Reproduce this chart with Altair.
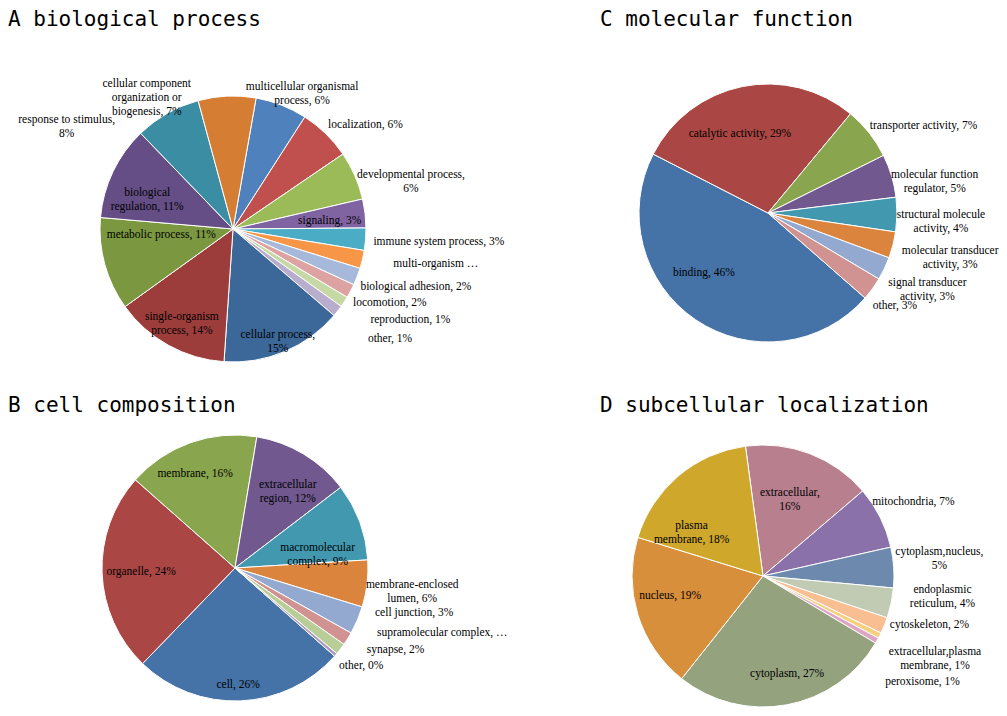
import math
import altair as alt
import pandas as pd

# ---------------- data ----------------
A_CATS = ["multicellular organismal process", "localization", "developmental process", "signaling",
          "immune system process", "multi-organism process", "biological adhesion", "locomotion",
          "reproduction", "other", "cellular process", "single-organism process", "metabolic process",
          "biological regulation", "response to stimulus",
          "cellular component organization or biogenesis"]
A_VALUES = [6.3, 6.4, 5.9, 3.5, 2.7, 2.2, 2.1, 1.7, 1.3, 1.4, 14.8, 14.0, 11.3, 11.4, 8.0, 7.0]
A_LABELS = ["multicellular organismal\nprocess, 6%", "localization, 6%", "developmental process,\n6%",
            "signaling, 3%", "immune system process, 3%", "multi-organism \u2026",
            "biological adhesion, 2%", "locomotion, 2%", "reproduction, 1%", "other, 1%",
            "cellular process,\n15%", "single-organism\nprocess, 14%", "metabolic process, 11%",
            "biological\nregulation, 11%", "response to stimulus,\n8%",
            "cellular component\norganization or\nbiogenesis, 7%"]

B_CATS = ["cell", "organelle", "membrane", "extracellular region", "macromolecular complex",
          "membrane-enclosed lumen", "cell junction", "supramolecular complex", "synapse", "other"]
B_VALUES = [25.7, 24.3, 16.1, 12.0, 9.4, 5.7, 3.4, 1.6, 1.4, 0.4]
B_LABELS = ["cell, 26%", "organelle, 24%", "membrane, 16%", "extracellular\nregion, 12%",
            "macromolecular\ncomplex, 9%", "membrane-enclosed\nlumen, 6%", "cell junction, 3%",
            "supramolecular complex, \u2026", "synapse, 2%", "other, 0%"]

C_CATS = ["binding", "catalytic activity", "transporter activity", "molecular function regulator",
          "structural molecule activity", "molecular transducer activity",
          "signal transducer activity", "other"]
C_VALUES = [46.1, 28.5, 6.6, 5.4, 4.3, 3.3, 2.9, 2.9]
C_LABELS = ["binding, 46%", "catalytic activity, 29%", "transporter activity, 7%",
            "molecular function\nregulator, 5%", "structural molecule\nactivity, 4%",
            "molecular transducer\nactivity, 3%", "signal transducer\nactivity, 3%", "other, 3%"]

D_CATS = ["extracellular", "mitochondria", "cytoplasm,nucleus", "endoplasmic reticulum",
          "cytoskeleton", "extracellular,plasma membrane", "peroxisome", "cytoplasm", "nucleus",
          "plasma membrane"]
D_VALUES = [15.9, 7.7, 5.0, 3.7, 2.0, 0.7, 0.7, 27.1, 19.1, 18.1]
D_LABELS = ["extracellular,\n16%", "mitochondria, 7%", "cytoplasm,nucleus,\n5%",
            "endoplasmic\nreticulum, 4%", "cytoskeleton, 2%", "extracellular,plasma\nmembrane, 1%",
            "peroxisome, 1%", "cytoplasm, 27%", "nucleus, 19%", "plasma\nmembrane, 18%"]

TITLES = ["A biological process", "C molecular function", "B cell composition",
          "D  subcellular localization"]

# ---------------- styles ----------------
A_COLORS = ["#4F81BD", "#C0504D", "#9BBB59", "#8064A2", "#4BACC6", "#F79646", "#A7B9DA",
            "#DCA3A2", "#C6D9A5", "#B8ADCC", "#3C6899", "#9D3D3B", "#7B9840", "#654E85",
            "#3A8DA3", "#D57D32"]
B_COLORS = ["#4572A7", "#AA4643", "#89A54E", "#71588F", "#4198AF", "#DB843D", "#93A9CF",
            "#D19392", "#B9CD96", "#A99BBD"]
C_COLORS = ["#4572A7", "#AA4643", "#89A54E", "#71588F", "#4198AF", "#DB843D", "#93A9CF",
            "#D19392"]
D_COLORS = ["#B87F8F", "#8A71AA", "#6D8AAE", "#C1CBB4", "#F9BE91", "#F5D07E", "#DCA5C4",
            "#94A27E", "#D88F3C", "#CEA72B"]

# label layout: (angle nudge from slice middle in degrees, distance from centre px, align)
A_LAYOUT = [(4.6, 158, "center"), (-1.8, 141, "left"), (6.8, 186, "center"), (2.0, 97, "center"),
            (0.8, 141, "left"), (-1.0, 164, "left"), (3.5, 140, "left"), (3.8, 141, "left"),
            (0.4, 165, "left"), (1.1, 174, "left"), (-0.2, 115, "center"), (1.0, 102, "center"),
            (10.6, 72, "center"), (-2.8, 93, "center"), (-27.1, 199, "center"),
            (-28.1, 169, "center")]
B_LAYOUT = [(0.7, 117, "center"), (-0.2, 94, "center"), (-3.5, 102, "center"),
            (1.5, 98, "center"), (6.9, 85, "center"), (-1.3, 178, "center"), (-5.4, 147, "left"),
            (-7.6, 156, "left"), (-5.8, 155, "left"), (2.5, 143, "left")]
C_LAYOUT = [(12.6, 88, "center"), (-8.0, 84, "center"), (-2.2, 134, "left"),
            (3.9, 171, "center"), (-0.1, 173, "center"), (-2.7, 186, "center"),
            (-1.9, 174, "center"), (5.6, 140, "left")]
D_LAYOUT = [(-2.9, 87, "center"), (-7.6, 132, "left"), (-4.0, 178, "center"),
            (-7.4, 180, "center"), (-1.0, 136, "left"), (-3.2, 188, "center"),
            (11.5, 162, "left"), (-3.4, 101, "center"), (5.1, 95, "center"), (-14.9, 87, "center")]

LABEL_FONT = "Liberation Serif"
LABEL_SIZE = 11.5
TITLE_FONT = "DejaVu Sans Mono"


def make_panel(cats, values, labels, colors, layout, start_deg, cx, cy, R):
    total = float(sum(values))
    df = pd.DataFrame({
        "idx": list(range(len(cats))),
        "category": cats,
        "value": values,
        "text": labels,
        "color": colors,
        "nudge": [l[0] for l in layout],
        "dist": [l[1] for l in layout],
        "align": [l[2] for l in layout],
    })
    s = math.radians(start_deg)
    tscale = alt.Scale(domain=[0, total], range=[s, s + 2 * math.pi])
    base = alt.Chart(df)
    arcs = base.mark_arc(radius=R, stroke="white", strokeWidth=1).encode(
        theta=alt.Theta("value:Q", stack=True, scale=tscale),
        color=alt.Color("color:N", scale=None),
        order=alt.Order("idx:Q"),
        x=alt.value(cx), y=alt.value(cy),
        tooltip=["category:N", "value:Q"],
    )
    layers = [arcs]
    for al in ["left", "center", "right"]:
        if al not in df["align"].values:
            continue
        t = base.transform_window(
            cum="sum(value)", sort=[alt.SortField("idx")], frame=[None, 0]
        ).transform_calculate(
            theta_lab=f"datum.cum - datum.value / 2 + datum.nudge * {total} / 360"
        ).transform_filter(
            alt.datum.align == al
        ).mark_text(
            align=al, baseline="middle", font=LABEL_FONT, fontSize=LABEL_SIZE,
            lineBreak="\n", lineHeight=14, color="#000000"
        ).encode(
            theta=alt.Theta("theta_lab:Q", stack=None, scale=tscale),
            radius=alt.Radius("dist:Q", scale=None),
            text="text:N",
            x=alt.value(cx), y=alt.value(cy),
        )
        layers.append(t)
    return alt.layer(*layers)


def make_title(text, x, y):
    return alt.Chart(pd.DataFrame({"t": [text]})).mark_text(
        align="left", baseline="alphabetic", font=TITLE_FONT, fontSize=21, color="#000000"
    ).encode(text="t:N", x=alt.value(x), y=alt.value(y))


panelA = make_panel(A_CATS, A_VALUES, A_LABELS, A_COLORS, A_LAYOUT, 10.0, 225, 221, 133)
panelC = make_panel(C_CATS, C_VALUES, C_LABELS, C_COLORS, C_LAYOUT, 131.2, 760, 205, 129)
panelB = make_panel(B_CATS, B_VALUES, B_LABELS, B_COLORS, B_LAYOUT, 131.5, 227, 560, 133)
panelD = make_panel(D_CATS, D_VALUES, D_LABELS, D_COLORS, D_LAYOUT, -7.7, 755, 568, 131)

titles = [make_title(TITLES[0], 0, 18), make_title(TITLES[1], 592, 18),
          make_title(TITLES[2], 0, 404), make_title(TITLES[3], 592, 404)]

chart = alt.layer(panelA, panelC, panelB, panelD, *titles).resolve_scale(
    theta="independent"
).properties(
    width=991, height=700, padding=0,
    autosize=alt.AutoSizeParams(type="none"),
).configure_view(stroke=None)

chart.save("out.html", embed_options={"renderer": "svg", "actions": False})
